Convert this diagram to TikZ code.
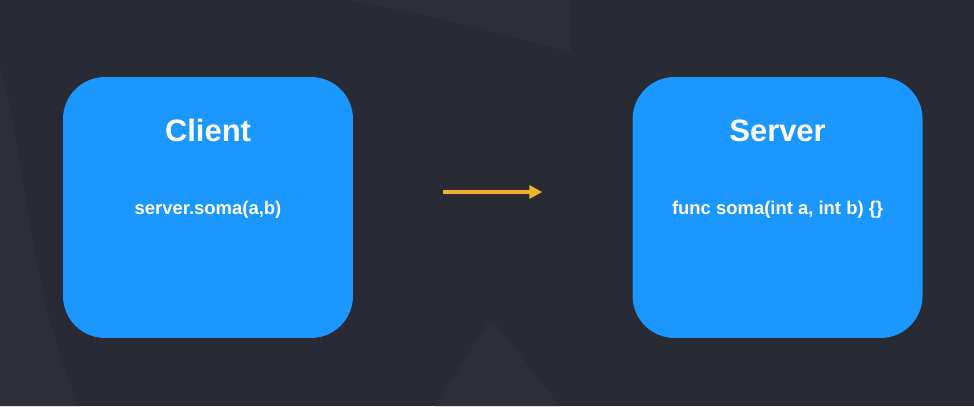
\documentclass[tikz,border=0pt]{standalone}
\usepackage{fontspec}
\setmainfont{Liberation Sans}
\usetikzlibrary{positioning,arrows.meta}

\definecolor{bgdark}{HTML}{282B33}
\definecolor{bgshape}{HTML}{2C2F37}
\definecolor{boxblue}{HTML}{1A98FF}
\definecolor{arrowgold}{HTML}{F0B429}

\begin{document}
\begin{tikzpicture}[
    x=0.02cm, y=-0.02cm,
    node distance=5.58cm,
    box/.style={rectangle, rounded corners=0.84cm, fill=boxblue, minimum width=5.8cm, minimum height=5.22cm, inner sep=0pt},
    titletext/.style={text=white, font=\bfseries\fontsize{17.6}{21}\selectfont, inner sep=0pt},
    codetext/.style={text=white, font=\bfseries\fontsize{10.5}{13}\selectfont, inner sep=0pt},
    arrow/.style={-{Triangle[length=0.26cm, width=0.26cm]}, line width=0.07cm, draw=arrowgold}
]

% Background
\fill[bgdark] (0,0) rectangle (974,406);
\useasboundingbox (0,0) rectangle (974,406);
\fill[bgshape] (0,65) .. controls (25,150) and (30,300) .. (80,406) -- (0,406) -- cycle;
\fill[bgshape] (348,0) .. controls (430,15) and (510,35) .. (571,53) -- (571,0) -- cycle;
\fill[bgshape] (491,318) -- (435,406) -- (560,406) -- cycle;

% Client
\node[box] (client) at (208,207.5) {};
\node[titletext, below=1.08cm of client.north, anchor=center] (clienttitle) {Client};
\node[codetext, below=0.05cm of client.center, anchor=center] (clientcode) {server.soma(a,b)};

% Server
\node[box, right=of client] (server) {};
\node[titletext, below=1.08cm of server.north, anchor=center] (servertitle) {Server};
\node[codetext, below=0.05cm of server.center, anchor=center] (servercode) {func soma(int a, int b) \{\}};

% Arrow
\draw[arrow, shorten <=1.8cm, shorten >=1.8cm] ([yshift=0.31cm]client.east) -- ([yshift=0.31cm]server.west);

\end{tikzpicture}
\end{document}
